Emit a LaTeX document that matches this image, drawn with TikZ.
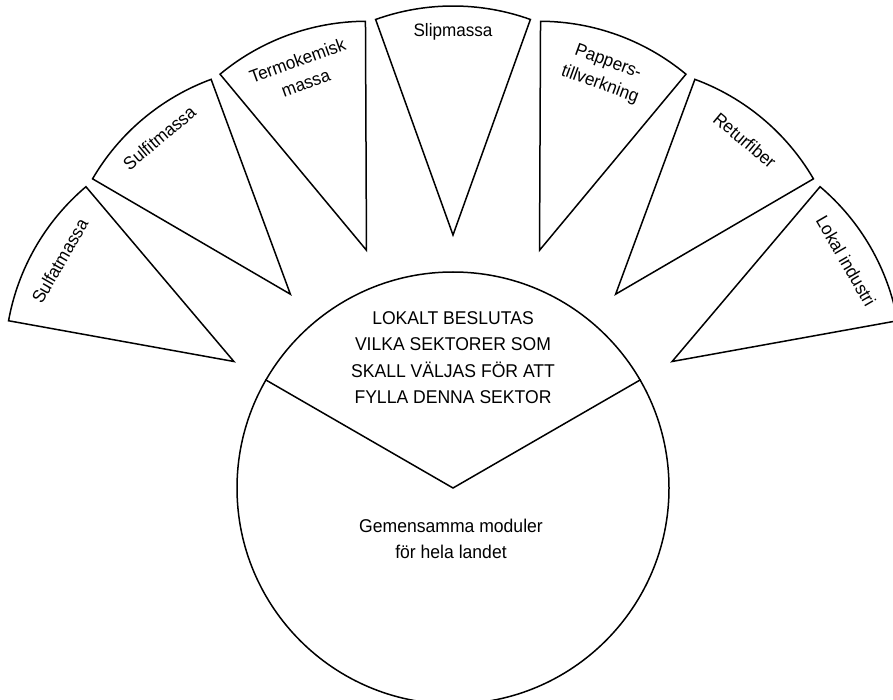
\documentclass[tikz,border=0pt]{standalone}
\usepackage{fontspec}
\setmainfont[FakeStretch=0.95]{Liberation Sans}
\usetikzlibrary{calc}
\begin{document}
\begin{tikzpicture}[x=1pt,y=1pt,
  wedge/.style={draw=black, line width=1.5pt, line join=miter},
  lbl/.style={font=\fontsize{18}{24}\selectfont, align=center, inner sep=0pt},
  ctext/.style={font=\fontsize{18.5}{26.5}\selectfont, align=center, inner sep=0pt}]
\useasboundingbox (0,0) rectangle (893,-700);
\clip (0,0) rectangle (893,-700);
\coordinate (C) at (453,-488);
\node[circle, draw, line width=1.5pt, minimum size=432pt, inner sep=0pt] (circ) at (C) {};
\draw[wedge] (circ.150) -- (circ.center) -- (circ.30);
\node[ctext] (top) at (453,-357.5) {LOKALT BESLUTAS\\VILKA SEKTORER SOM\\SKALL VÄLJAS FÖR ATT\\FYLLA DENNA SEKTOR};
\node[ctext] (bottom) at (451,-539) {Gemensamma moduler\\för hela landet};
\foreach \a/\r/\t/\n in {150/201/{Sulfatmassa}/w1,
                         130/204/{Sulfitmassa}/w2,
                         110/190/{Termokemisk\\massa}/w3,
                         90/203/{Slipmassa}/w4,
                         70/188/{Pappers-\\tillverkning}/w5,
                         50/201/{Returfiber}/w6,
                         30/201/{Lokal industri}/w7}{
  \coordinate (\n) at ($(C)+(\a:253)$);
  \draw[wedge] (\n) -- ++(\a+19.75:229) arc[start angle=\a+19.75, end angle=\a-19.75, radius=229] -- cycle;
  \node[lbl, rotate=\a-90] (\n-t) at ($(\n)+(\a:\r)$) {\t};
}
\end{tikzpicture}
\end{document}
